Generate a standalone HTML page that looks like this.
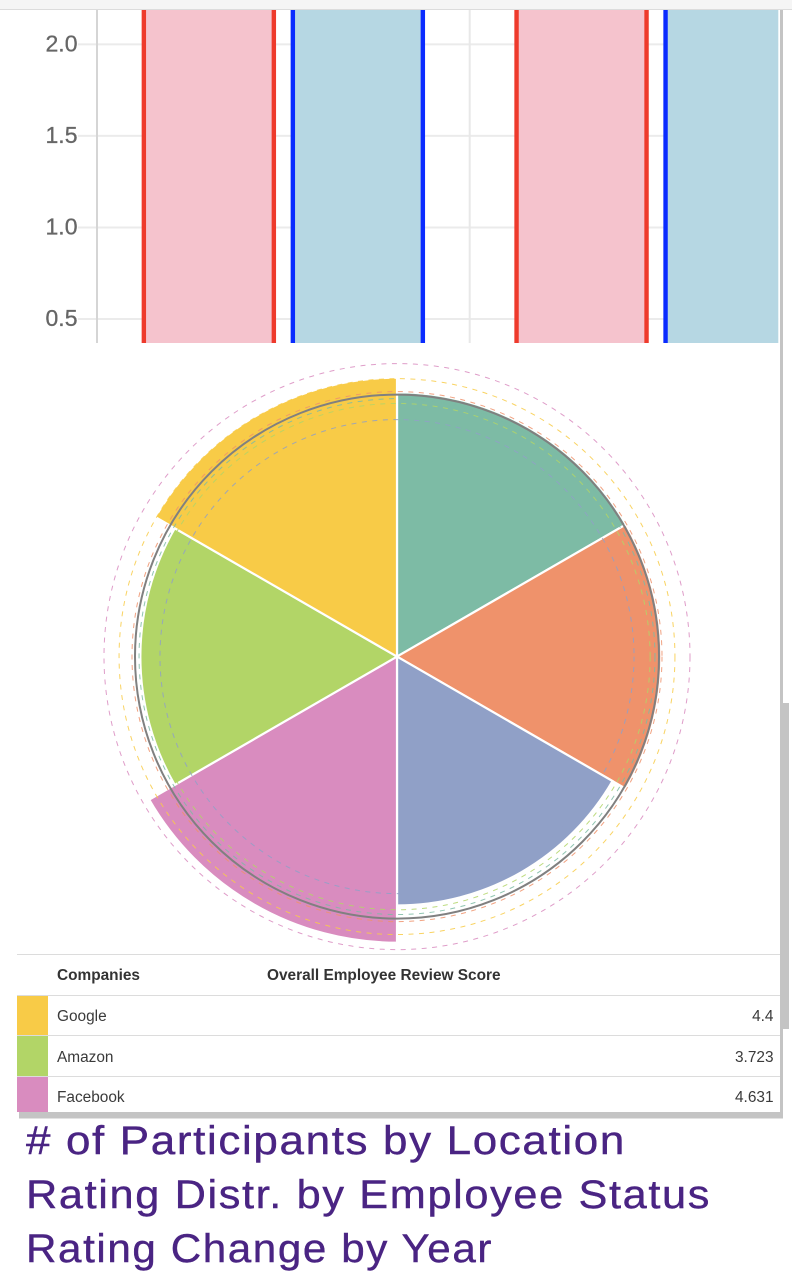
<!DOCTYPE html>
<html lang="en">
<head>
<meta charset="utf-8">
<title>Employee Review Dashboard</title>
<style>
  html, body { margin: 0; padding: 0; background: #fff; }
  #page { position: relative; width: 792px; height: 1288px; overflow: hidden; background: #fff;
          font-family: "Liberation Sans", Arial, sans-serif; }
  .abs { position: absolute; }
  svg { position: absolute; left: 0; top: 0; display: block; }
  .line { position: absolute; background: #dcdcdc; height: 1px; left: 17px; width: 763px; }
  .swatch { position: absolute; left: 17px; width: 31px; }
  .cell { position: absolute; font-size: 15.4px; line-height: 18px; color: #3a3a3a; white-space: nowrap; }
  .head { font-weight: bold; color: #333; }
  .num { right: 18.5px; text-align: right; }
</style>
</head>
<body>
<div id="page">

  <div class="abs" style="left:0;top:0;width:792px;height:9px;background:#f5f5f5"></div>
  <div class="abs" style="left:0;top:9px;width:792px;height:1px;background:#dcdcdc"></div>

  <svg id="bar-chart" width="792" height="344" viewBox="0 0 792 344"></svg>
  <svg id="pie-chart" width="792" height="610" viewBox="0 0 792 610" style="top:344px"></svg>

  <div class="abs" style="left:780px;top:10px;width:3px;height:1109px;background:#c4c4c4"></div>
  <div class="abs" style="left:783px;top:703px;width:6px;height:326px;background:#c4c4c4"></div>
  <div class="abs" style="left:19px;top:1112px;width:764px;height:6px;background:#c4c4c4"></div>
  <div class="abs" style="left:19px;top:1118px;width:764px;height:1px;background:#e2e2e2"></div>

  <div id="score-table">
    <div class="line" style="top:954px"></div>
    <div class="cell head" style="left:57px;top:967px">Companies</div>
    <div class="cell head" style="left:267px;top:967px">Overall Employee Review Score</div>
    <div class="line" style="top:995px"></div>

    <div class="swatch" style="top:996px;height:39px;background:#f8cb47"></div>
    <div class="cell" style="left:57px;top:1008px">Google</div>
    <div class="cell num" style="top:1008px">4.4</div>
    <div class="line" style="top:1035px"></div>

    <div class="swatch" style="top:1036px;height:40px;background:#b2d567"></div>
    <div class="cell" style="left:57px;top:1049px">Amazon</div>
    <div class="cell num" style="top:1049px">3.723</div>
    <div class="line" style="top:1076px"></div>

    <div class="swatch" style="top:1077px;height:35px;background:#d98cbf"></div>
    <div class="cell" style="left:57px;top:1089px">Facebook</div>
    <div class="cell num" style="top:1089px">4.631</div>
  </div>

  <svg width="792" height="1288" viewBox="0 0 792 1288" style="pointer-events:none">
    <g font-family="'Liberation Sans', Arial, sans-serif" font-size="40" fill="#4a2483" stroke="#4a2483" stroke-width="0.4" letter-spacing="1.5">
      <text x="26" y="1154" textLength="600" lengthAdjust="spacingAndGlyphs"># of Participants by Location</text>
      <text x="26" y="1208" textLength="685" lengthAdjust="spacingAndGlyphs">Rating Distr. by Employee Status</text>
      <text x="26" y="1262" textLength="467" lengthAdjust="spacingAndGlyphs">Rating Change by Year</text>
    </g>
  </svg>
</div>

<script>
// ---------- Bar chart data ----------
const barGroups = ['Group A', 'Group B'];
const barSeriesNames = ['Current', 'Former'];
const currentValues = [4.3, 4.2];
const formerValues = [4.1, 4.0];
const yTickLabels = ['0.5', '1.0', '1.5', '2.0'];
const yTickValues = [0.5, 1.0, 1.5, 2.0];

// ---------- Polar chart data ----------
const sliceNames = ['Apple', 'Microsoft', 'Netflix', 'Facebook', 'Amazon', 'Google'];
const sliceValues = [3.95, 3.95, 3.5, 4.631, 3.723, 4.4];
const sliceColors = ['#7dbba5', '#ef926b', '#90a0c7', '#d98cbf', '#b2d567', '#f8cb47'];
const referenceValues = [3.79, 4.0, 3.2, 4.89, 3.65, 4.4];
const averageValue = [3.91];

const SVG_NS = 'http://www.w3.org/2000/svg';
function make(parent, tag, attrs) {
  const el = document.createElementNS(SVG_NS, tag);
  for (const k in attrs) el.setAttribute(k, attrs[k]);
  parent.appendChild(el);
  return el;
}

// ---------- Bar chart ----------
(function () {
  const svg = document.getElementById('bar-chart');
  const plotLeft = 97, bandWidth = 372.7, plotRight = 778.3;
  const clipTop = 10, clipBottom = 343;
  const barWidth = 130, barGap = 19;

  const yScale = v => 319 - (v - 0.5) * 183.1;
  const xBand = i => plotLeft + i * bandWidth;

  const defs = make(svg, 'defs', {});
  const clip = make(defs, 'clipPath', { id: 'bar-clip' });
  make(clip, 'rect', { x: 0, y: clipTop, width: plotRight, height: clipBottom - clipTop });
  const root = make(svg, 'g', { 'clip-path': 'url(#bar-clip)' });

  yTickValues.forEach((v, i) => {
    const grid = make(root, 'line', { x1: 78, x2: plotRight, y1: yScale(v), y2: yScale(v), stroke: '#ebebeb', 'stroke-width': 2 });
    
    
    const label = make(root, 'text', { x: 77.5, y: yScale(v) + 7, 'text-anchor': 'end', 'font-size': 23, fill: '#666', stroke: '#666', 'stroke-width': 0.3, 'font-family': "'Liberation Sans', Arial, sans-serif" });
    label.textContent = yTickLabels[i];
    
    
  });

  const axis = make(root, 'line', { x1: plotLeft, x2: plotLeft, y1: clipTop, y2: clipBottom, stroke: '#d5d5d5', 'stroke-width': 2 });
  
  

  barGroups.forEach((g, i) => {
    if (i === 0) return;
    const divider = make(root, 'line', { x1: xBand(i), x2: xBand(i), y1: clipTop, y2: clipBottom, stroke: '#e8e8e8', 'stroke-width': 2 });
    
    
  });

  const seriesList = [
    { values: currentValues, fill: '#f5c3cd', stroke: '#ee3a2c' },
    { values: formerValues, fill: '#b6d7e3', stroke: '#0a2bff' }
  ];
  barGroups.forEach((g, i) => {
    const center = xBand(i) + bandWidth / 2;
    seriesList.forEach((s, j) => {
      const x = j === 0 ? center - barGap / 2 - barWidth : center + barGap / 2;
      const top = yScale(s.values[i]);
      const bar = make(root, 'rect', { x: x, y: top, width: barWidth, height: yScale(0) - top, fill: s.fill, stroke: s.stroke, 'stroke-width': 4.4 });
      
      
    });
  });
})();

// ---------- Polar chart ----------
(function () {
  const svg = document.getElementById('pie-chart');
  const cx = 397, cy = 312.6;
  const rScale = v => 132.5 * Math.sqrt(v);
  const point = (r, deg) => {
    const a = (deg - 90) * Math.PI / 180;
    return [cx + r * Math.cos(a), cy + r * Math.sin(a)];
  };
  const step = 360 / sliceValues.length;

  sliceValues.forEach((v, i) => {
    const r = rScale(v) + 1;
    const p0 = point(r, i * step);
    const p1 = point(r, (i + 1) * step);
    const d = 'M' + cx + ' ' + cy + 'L' + p0[0] + ' ' + p0[1] + 'A' + r + ' ' + r + ' 0 0 1 ' + p1[0] + ' ' + p1[1] + 'Z';
    const slice = make(svg, 'path', { d: d, fill: sliceColors[i], stroke: '#fff', 'stroke-width': 2.2 });
    
    
  });

  [1, 0, 4, 2, 5, 3].forEach(i => {
    const ring = make(svg, 'circle', { cx: cx, cy: cy, r: rScale(referenceValues[i]), fill: 'none', stroke: sliceColors[i], 'stroke-width': 1, 'stroke-dasharray': '5 5.5', opacity: 0.85 });
    
    
  });

  const avg = make(svg, 'circle', { cx: cx, cy: cy, r: rScale(averageValue[0]), fill: 'none', stroke: '#808080', 'stroke-width': 2 });
  
  
})();
</script>
</body>
</html>
